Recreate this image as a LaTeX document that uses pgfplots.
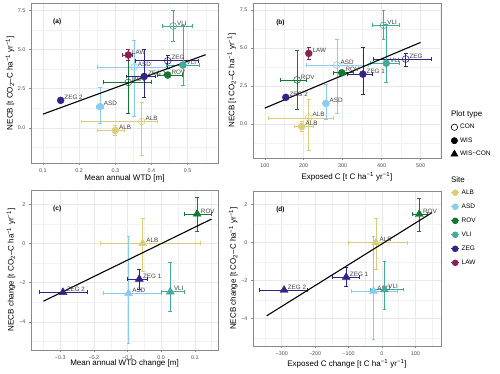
\documentclass[border=0pt]{standalone}
\usepackage{fontspec}
\setmainfont{Liberation Sans}
\usepackage{pgfplots}
\pgfplotsset{compat=1.18}

% Tol muted colours, one per site
\definecolor{cALB}{HTML}{DDCC77}
\definecolor{cASD}{HTML}{88CCEE}
\definecolor{cROV}{HTML}{117733}
\definecolor{cVLI}{HTML}{44AA99}
\definecolor{cZEG}{HTML}{332288}
\definecolor{cLAW}{HTML}{882255}
\definecolor{frame}{HTML}{8A8A8A}
\definecolor{ticktxt}{HTML}{4D4D4D}

\newcommand{\fs}[1]{\fontsize{#1}{#1}\selectfont}
\tikzset{tag/.style={font=\fs{6.5}\bfseries, anchor=west}}

\pgfplotsset{
  /pgfplots/table/pt/.style={col sep=comma, row sep=\\,
    x error plus=xp, x error minus=xm, y error plus=yp, y error minus=ym, meta=l},
  panel/.style={
    scale only axis, anchor=south west, clip=false,
    axis line style={draw=frame, line width=0.7pt},
    grid=both,
    major grid style={draw=black!9, line width=0.5pt},
    minor grid style={draw=black!5, line width=0.3pt},
    tick align=outside, major tick length=2pt, minor tick length=0pt,
    tick style={draw=frame, line width=0.5pt},
    xtick pos=bottom, ytick pos=left,
    tick label style={font=\fs{5.4}, text=ticktxt},
    label style={font=\fs{8}},
    xlabel style={anchor=center},
    ylabel style={anchor=center},
    legend image code/.code={\draw[mark repeat=2,mark phase=2,#1] plot coordinates {(0pt,0pt) (4pt,0pt) (8pt,0pt)};},
  },
  fit/.style={black, line width=1.1pt, no marks},
  ept/.style={only marks,
    error bars/.cd, x dir=both, x explicit, y dir=both, y explicit,
    error bar style={line width=0.55pt, solid},
    error mark options={rotate=90, mark size=1.9pt, line width=0.55pt},
    /pgfplots/.cd,
    nodes near coords, point meta=explicit symbolic,
    every node near coord/.style={anchor=west, xshift=3.6pt, yshift=3pt, font=\fs{6.3}, text=black!75, inner sep=0pt},
  },
  con/.style={ept, color=#1, mark=o, mark size=3.4pt, mark options={line width=0.6pt}},
  wis/.style={ept, color=#1, mark=*, mark size=3.5pt},
  wc/.style={ept, color=#1, mark=triangle*, mark size=4.6pt},
}

\begin{document}
\begin{tikzpicture}
\path[use as bounding box] (0,0) rectangle (500pt,-373pt);

% ---------------- (a)
\begin{axis}[panel, at={(31pt,-163pt)}, width=187pt, height=160pt,
  xmin=0.067, xmax=0.584, ymin=-2.25, ymax=7.97,
  xtick={0.1,0.2,0.3,0.4,0.5}, xticklabels={0.1,0.2,0.3,0.4,0.5},
  minor xtick={0.15,0.25,0.35,0.45,0.55},
  ytick={0,2.5,5,7.5}, yticklabels={0.0,2.5,5.0,7.5},
  minor ytick={-1.25,1.25,3.75,6.25},
  xlabel={Mean annual WTD [m]},
  ylabel={NECB [t CO\textsubscript{2}–C ha\textsuperscript{−1} yr\textsuperscript{−1}]},
  xlabel style={at={(axis description cs:0.5,-0.096)}},
  ylabel style={at={(axis description cs:-0.112,0.5)}},
]
\addplot[con=cALB] table[pt]{x,y,xp,xm,yp,ym,l\\ 0.373,0.40,0.042,0.166,1.2,2.15,ALB\\};
\addplot[con=cASD] table[pt]{x,y,xp,xm,yp,ym,l\\ 0.352,3.88,0.090,0.103,1.7,3.15,ASD\\};
\addplot[con=cROV] table[pt]{x,y,xp,xm,yp,ym,l\\ 0.336,2.90,0.064,0.069,1.95,1.95,ROV\\};
\addplot[con=cVLI] table[pt]{x,y,xp,xm,yp,ym,l\\ 0.460,6.50,0.052,0.030,1.0,0.95,VLI\\};
\addplot[con=cZEG] table[pt]{x,y,xp,xm,yp,ym,l\\ 0.445,4.28,0.085,0.090,0.37,0.45,ZEG\\};
\addplot[wis=cALB] table[pt]{x,y,xp,xm,yp,ym,l\\ 0.300,-0.17,0.025,0.050,0.32,0.32,ALB\\};
\addplot[wis=cASD] table[pt]{x,y,xp,xm,yp,ym,l\\ 0.258,1.35,0.010,0.010,1.25,1.05,ASD\\};
\addplot[wis=cROV] table[pt]{x,y,xp,xm,yp,ym,l\\ 0.445,3.37,0.040,0.030,0.15,0.15,ROV\\};
\addplot[wis=cVLI] table[pt]{x,y,xp,xm,yp,ym,l\\ 0.487,4.00,0.045,0.047,2.55,1.28,VLI\\};
\addplot[wis=cZEG] table[pt]{x,y,xp,xm,yp,ym,l\\ 0.380,3.28,0.030,0.050,1.75,1.3,ZEG 1\\};
\addplot[wis=cZEG] table[pt]{x,y,xp,xm,yp,ym,l\\ 0.149,1.75,0,0,0,0,ZEG 2\\};
\addplot[wis=cLAW] table[pt]{x,y,xp,xm,yp,ym,l\\ 0.336,4.65,0.010,0.016,0.37,0.37,LAW\\};
\addplot[fit] coordinates {(0.1,0.87) (0.55,4.67)};
\node[tag] at (axis description cs:0.1,0.88) {(a)};
\end{axis}

% ---------------- (b)
\begin{axis}[panel, at={(253pt,-158pt)}, width=188pt, height=155pt,
  xmin=69.8, xmax=552.6, ymin=-2.25, ymax=7.97,
  xtick={100,200,300,400,500}, xticklabels={100,200,300,400,500},
  minor xtick={150,250,350,450,550},
  ytick={0,2.5,5,7.5}, yticklabels={0.0,2.5,5.0,7.5},
  minor ytick={-1.25,1.25,3.75,6.25},
  xlabel={Exposed C [t C ha\textsuperscript{−1} yr\textsuperscript{−1}]},
  ylabel={NECB [t CO\textsubscript{2}–C ha\textsuperscript{−1} yr\textsuperscript{−1}]},
  xlabel style={at={(axis description cs:0.5,-0.12)}},
  ylabel style={at={(axis description cs:-0.113,0.5)}},
  legend style={at={(axis description cs:1.035,0.245)}, anchor=north west,
    draw=none, fill=none, font=\fs{6.5}, row sep=3.4pt, cells={anchor=west}},
]
\addlegendimage{only marks, black, mark=o, mark size=3.2pt, mark options={line width=0.6pt}}
\addlegendentry{CON}
\addlegendimage{only marks, black, mark=*, mark size=3.2pt}
\addlegendentry{WIS}
\addlegendimage{only marks, black, mark=triangle*, mark size=4.2pt}
\addlegendentry{WIS−CON}
\addplot[con=cALB] table[pt]{x,y,xp,xm,yp,ym,l\\ 213,0.40,63,103,1.2,2.15,ALB\\};
\addplot[con=cASD] table[pt]{x,y,xp,xm,yp,ym,l\\ 285,3.88,80,79,1.7,3.15,ASD\\};
\addplot[con=cROV] table[pt]{x,y,xp,xm,yp,ym,l\\ 183,2.90,24,43,1.95,1.95,ROV\\};
\addplot[con=cVLI] table[pt]{x,y,xp,xm,yp,ym,l\\ 405,6.50,40,30,1.0,0.95,VLI\\};
\addplot[con=cZEG] table[pt]{x,y,xp,xm,yp,ym,l\\ 462,4.28,65,83,0.37,0.45,ZEG\\};
\addplot[wis=cALB] table[pt]{x,y,xp,xm,yp,ym,l\\ 195,-0.17,29,20,0.32,0.32,ALB\\};
\addplot[wis=cASD] table[pt]{x,y,xp,xm,yp,ym,l\\ 257,1.35,6,6,1.25,1.05,ASD\\};
\addplot[wis=cROV] table[pt]{x,y,xp,xm,yp,ym,l\\ 298,3.37,29,23,0.15,0.15,ROV\\};
\addplot[wis=cVLI] table[pt]{x,y,xp,xm,yp,ym,l\\ 412,4.00,33,42,2.55,1.28,VLI\\};
\addplot[wis=cZEG] table[pt]{x,y,xp,xm,yp,ym,l\\ 352,3.28,23,41,1.75,1.3,ZEG 1\\};
\addplot[wis=cZEG] table[pt]{x,y,xp,xm,yp,ym,l\\ 154,1.75,0,0,0,0,ZEG 2\\};
\addplot[wis=cLAW] table[pt]{x,y,xp,xm,yp,ym,l\\ 213,4.65,5,5,0.37,0.37,LAW\\};
\addplot[fit] coordinates {(100,1.04) (500,5.37)};
\node[tag] at (axis description cs:0.105,0.873) {(b)};
\node[anchor=west, font=\fs{8}] at (axis description cs:1.035,0.284) {Plot type};
\end{axis}

% ---------------- (c)
\begin{axis}[panel, at={(31pt,-350pt)}, width=187pt, height=160pt,
  xmin=-0.387, xmax=0.169, ymin=-5.44, ymax=2.72,
  xtick={-0.3,-0.2,-0.1,0,0.1}, xticklabels={−0.3,−0.2,−0.1,0.0,0.1},
  minor xtick={-0.35,-0.25,-0.15,-0.05,0.05,0.15},
  ytick={-4,-2,0,2}, yticklabels={−4,−2,0,2},
  minor ytick={-5,-3,-1,1},
  xlabel={Mean annual WTD change [m]},
  ylabel={NECB change [t CO\textsubscript{2}–C ha\textsuperscript{−1} yr\textsuperscript{−1}]},
  xlabel style={at={(axis description cs:0.5,-0.083)}},
  ylabel style={at={(axis description cs:-0.107,0.5)}},
]
\addplot[wc=cALB] table[pt]{x,y,xp,xm,yp,ym,l\\ -0.055,0.00,0.172,0.126,1.27,1.40,ALB\\};
\addplot[wc=cASD] table[pt]{x,y,xp,xm,yp,ym,l\\ -0.097,-2.55,0.097,0.074,2.90,2.55,ASD\\};
\addplot[wc=cROV] table[pt]{x,y,xp,xm,yp,ym,l\\ 0.107,1.50,0.041,0.038,0.85,0.90,ROV\\};
\addplot[wc=cVLI] table[pt]{x,y,xp,xm,yp,ym,l\\ 0.027,-2.47,0.042,0.028,1.48,1.02,VLI\\};
\addplot[wc=cZEG] table[pt]{x,y,xp,xm,yp,ym,l\\ -0.065,-1.82,0.024,0.037,0.51,0.50,ZEG 1\\};
\addplot[wc=cZEG] table[pt]{x,y,xp,xm,yp,ym,l\\ -0.292,-2.50,0.071,0.069,0,0,ZEG 2\\};
\addplot[fit] coordinates {(-0.35,-2.95) (0.15,1.24)};
\node[tag] at (axis description cs:0.1,0.88) {(c)};
\end{axis}

% ---------------- (d)
\begin{axis}[panel, at={(253pt,-346pt)}, width=188pt, height=155pt,
  xmin=-386, xmax=177, ymin=-5.44, ymax=2.72,
  xtick={-300,-200,-100,0,100}, xticklabels={−300,−200,−100,0,100},
  minor xtick={-350,-250,-150,-50,50,150},
  ytick={-4,-2,0,2}, yticklabels={−4,−2,0,2},
  minor ytick={-5,-3,-1,1},
  xlabel={Exposed C change [t C ha\textsuperscript{−1} yr\textsuperscript{−1}]},
  ylabel={NECB change [t CO\textsubscript{2}–C ha\textsuperscript{−1} yr\textsuperscript{−1}]},
  xlabel style={at={(axis description cs:0.5,-0.116)}},
  ylabel style={at={(axis description cs:-0.105,0.5)}},
  legend style={at={(axis description cs:1.035,1.035)}, anchor=north west,
    draw=none, fill=none, font=\fs{6.5}, row sep=4pt, cells={anchor=west}},
]
\addlegendimage{cALB, mark=*, mark size=2.8pt, line width=0.9pt}
\addlegendentry{ALB}
\addlegendimage{cASD, mark=*, mark size=2.8pt, line width=0.9pt}
\addlegendentry{ASD}
\addlegendimage{cROV, mark=*, mark size=2.8pt, line width=0.9pt}
\addlegendentry{ROV}
\addlegendimage{cVLI, mark=*, mark size=2.8pt, line width=0.9pt}
\addlegendentry{VLI}
\addlegendimage{cZEG, mark=*, mark size=2.8pt, line width=0.9pt}
\addlegendentry{ZEG}
\addlegendimage{cLAW, mark=*, mark size=2.8pt, line width=0.9pt}
\addlegendentry{LAW}
\addplot[wc=cALB] table[pt]{x,y,xp,xm,yp,ym,l\\ -18,0.00,93,82,1.27,1.40,ALB\\};
\addplot[wc=cASD] table[pt]{x,y,xp,xm,yp,ym,l\\ -25,-2.55,70,68,2.90,2.55,ASD\\};
\addplot[wc=cROV] table[pt]{x,y,xp,xm,yp,ym,l\\ 112,1.50,23,22,0.85,0.90,ROV\\};
\addplot[wc=cVLI] table[pt]{x,y,xp,xm,yp,ym,l\\ 8,-2.47,55,43,1.48,1.02,VLI\\};
\addplot[wc=cZEG] table[pt]{x,y,xp,xm,yp,ym,l\\ -107,-1.82,40,41,0.51,0.50,ZEG 1\\};
\addplot[wc=cZEG] table[pt]{x,y,xp,xm,yp,ym,l\\ -293,-2.50,71,74,0,0,ZEG 2\\};
\addplot[fit] coordinates {(-345,-3.85) (150,1.58)};
\node[tag] at (axis description cs:0.105,0.88) {(d)};
\node[anchor=west, font=\fs{8}] at (axis description cs:1.035,1.071) {Site};
\end{axis}
\end{tikzpicture}
\end{document}
